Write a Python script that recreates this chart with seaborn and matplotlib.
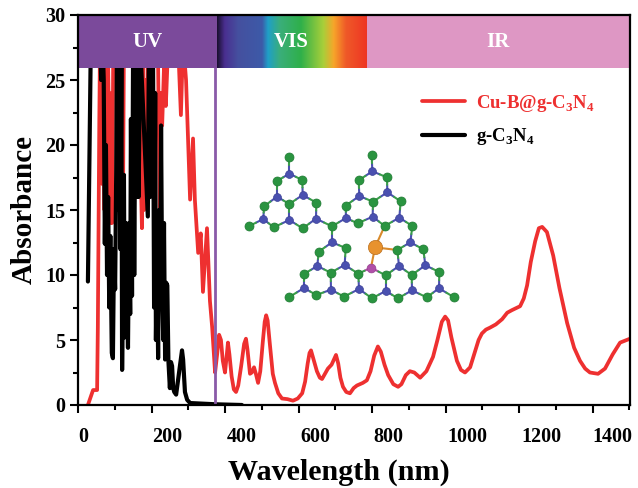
import numpy as np
import pandas as pd

import matplotlib
matplotlib.use('Agg')

import matplotlib.pyplot as plt
import seaborn as sns
from matplotlib.colors import LinearSegmentedColormap
from matplotlib.transforms import ScaledTranslation


# =========================================================
# DATA
# =========================================================

red_nm = [27, 41, 52, 54, 56, 58, 60, 64, 66, 69, 72, 75, 78, 81, 84, 88, 91, 93, 96, 120, 122, 125,
          169, 172, 174, 177, 180, 183, 186, 190, 212, 218, 223, 226, 229, 234, 239, 243, 246,
          272, 280, 286, 294, 305, 313, 318, 327, 334, 340, 351, 359, 365,
          373, 379, 384, 389, 394, 400, 404, 408, 412, 418, 424, 430, 436, 444, 452, 457,
          461, 468, 473, 479, 484, 490, 496, 503, 508, 512, 516, 522, 530, 536, 545, 555,
          570, 585, 598, 610, 618, 625, 630, 634, 639, 650, 658, 664, 672, 680, 690, 702,
          708, 714, 721, 730, 740, 750, 759, 775, 786, 796, 806, 816, 824, 834, 844, 858,
          871, 880, 892, 903, 915, 931, 948, 966, 978, 990, 999, 1007, 1016, 1031, 1042,
          1053, 1067, 1080, 1090, 1099, 1110, 1121, 1137, 1154, 1168, 1181, 1203, 1213,
          1222, 1232, 1244, 1254, 1263, 1276, 1293, 1310, 1331, 1350, 1366, 1380, 1393,
          1415, 1434, 1455, 1475, 1502]
red_abs = [0, 1.15, 1.15, 6, 14, 22, 28, 28, 17, 28, 15, 27, 14, 28, 22, 14, 24, 14, 28, 28, 13, 28,
           28, 16, 13.6, 26, 15, 25, 16, 28, 28, 26, 13.6, 24, 21.5, 26, 23, 26, 28,
           28, 22.3, 28, 25, 15.8, 20.5, 15.8, 11.7, 13.2, 8.7, 13.6, 8, 6,
           2.5, 4.0, 5.4, 5.0, 3.4, 2.5, 3.6, 4.8, 3.9, 2.2, 1.2, 1.0, 1.5, 3.0, 4.7, 5.1,
           4.3, 2.4, 2.5, 2.9, 2.4, 1.7, 2.6, 4.9, 6.4, 6.9, 6.5, 4.7, 2.4, 1.7, 0.9, 0.5,
           0.45, 0.33, 0.5, 0.9, 1.8, 3.2, 4.0, 4.2, 3.7, 2.6, 2.1, 2.0, 2.4, 2.8, 3.1, 3.85,
           3.2, 2.1, 1.4, 1.0, 0.9, 1.3, 1.5, 1.7, 1.9, 2.6, 3.8, 4.5, 4.1, 3.1, 2.3, 1.6,
           1.4, 1.6, 2.3, 2.6, 2.5, 2.1, 2.6, 3.7, 5.0, 6.4, 6.8, 6.5, 5.2, 3.4, 2.7,
           2.5, 2.9, 4.1, 5.0, 5.5, 5.8, 5.95, 6.2, 6.6, 7.1, 7.3, 7.6, 8.2,
           9.2, 11, 12.6, 13.6, 13.7, 13.3, 11.5, 9, 6.3, 4.4, 3.4, 2.8, 2.5,
           2.4, 2.8, 3.9, 4.8, 5.1]

black_nm = [27, 35, 60, 63, 67, 70, 73, 76, 79, 82, 85, 88, 92, 95, 98, 101, 104, 106, 109, 112,
            115, 118, 120, 123, 125, 127, 130, 133, 136, 139, 142, 144, 147, 150, 153, 156, 159,
            162, 165, 169, 190, 193, 196, 199, 202, 204, 207, 210, 212, 215, 218, 221, 224, 226,
            229, 232, 234, 237, 240, 243, 246, 250, 253, 256, 259, 262, 267, 275, 283, 286, 291,
            297, 305, 378, 446]
black_abs = [9.5, 28, 28, 25, 28, 25, 12.4, 20, 10, 16, 7.5, 13, 4.0, 3.6, 12, 8.9, 18, 28, 15, 28,
             12, 26, 2.7, 12, 17.7, 5.2, 14, 9, 4.4, 14, 7, 22, 8.4, 28, 10, 24, 16,
             28, 16, 28, 14.5, 28, 16, 28, 18, 28, 7.5, 24, 5, 12, 3.6, 15, 8, 21.5,
             9, 5, 14, 3.5, 9.4, 9.2, 3.4, 1.3, 3.3, 3.0, 1.3, 1.0, 0.8, 2.5, 4.2, 3.5, 1,
             0.4, 0.15, 0.05, 0]

x_ticks = [0, 200, 400, 600, 800, 1000, 1200, 1400]
y_ticks = [0, 5, 10, 15, 20, 25, 30]
x_label_shift = [5, 16, 17, 17, 16, 22, 22, 20]

band_names = ["UV", "VIS", "IR"]
band_edges = [0, 378, 784, 1502]
uv_line_nm = 372

spectrum_stops = [(0.0, "#1a1030"), (0.05, "#4a2f90"), (0.14, "#45509f"), (0.30, "#3d5aa8"),
                  (0.34, "#1f9fc8"), (0.42, "#3aae7a"), (0.56, "#2fb04a"), (0.71, "#a8cf3a"),
                  (0.78, "#f7a52a"), (0.86, "#ef5a28"), (1.0, "#ee3524")]

green_x = [178, 141, 217, 102, 178, 259, 56, 131, 218, 306, 425, 386, 471, 347, 429, 512, 383,
           464, 547, 266, 347, 222, 302, 385, 467, 545, 628, 502, 580, 178, 259, 342, 426, 504,
           590, 671]
green_y = [80, 153, 150, 229, 222, 218, 289, 292, 295, 289, 75, 151, 142, 227, 215, 214, 280,
           288, 288, 365, 354, 432, 428, 431, 436, 435, 426, 360, 358, 501, 495, 500, 505, 505,
           502, 501]
blue_x = [178, 141, 218, 100, 178, 258, 427, 388, 472, 348, 428, 508, 541, 306, 262, 344, 222,
          303, 387, 467, 546, 627, 507, 586]
blue_y = [131, 200, 195, 267, 270, 266, 124, 198, 187, 264, 260, 263, 337, 337, 408, 405, 474,
          479, 477, 483, 481, 475, 408, 406]
boron_x = [423]
boron_y = [413]
copper_x = [435]
copper_y = [352]
copper_bonded_x = [464, 502, 423]
copper_bonded_y = [288, 360, 413]


# =========================================================
# FIGURE SETTINGS
# =========================================================

sns.set_theme(style="ticks")
plt.rcParams['font.family'] = ['Liberation Serif', 'DejaVu Serif']
plt.rcParams['mathtext.fontset'] = 'custom'
plt.rcParams['mathtext.bf'] = 'Liberation Serif:bold'
plt.rcParams['mathtext.rm'] = 'Liberation Serif:bold'
plt.rcParams['text.color'] = 'black'
plt.rcParams['xtick.color'] = 'black'
plt.rcParams['ytick.color'] = 'black'

fig = plt.figure(figsize=(6.38, 4.88), dpi=100)
ax = fig.add_axes([78 / 638, (488 - 405) / 488, (630 - 78) / 638, 390 / 488])


# =========================================================
# SPECTRA
# =========================================================

red_df = pd.DataFrame({"nm": red_nm, "abs": red_abs})
black_df = pd.DataFrame({"nm": black_nm, "abs": black_abs})

sns.lineplot(data=red_df, x="nm", y="abs", sort=False, estimator=None, color="#ee3030",
             linewidth=2.7, label=r"Cu-B@g-C$_{\mathbf{3}}$N$_{\mathbf{4}}$", ax=ax, zorder=2)
sns.lineplot(data=black_df, x="nm", y="abs", sort=False, estimator=None, color="black",
             linewidth=3, label=r"g-C$_{\mathbf{3}}$N$_{\mathbf{4}}$", ax=ax, zorder=2.1)

ax.vlines(uv_line_nm, 0, 26, color="#8a5aa8", linewidth=2, zorder=3)


# =========================================================
# UV / VIS / IR BANDS
# =========================================================

ax.axvspan(band_edges[0], band_edges[1], ymin=25.9 / 30, ymax=1, color="#7b4a9b", lw=0, zorder=4)
ax.axvspan(band_edges[2], band_edges[3], ymin=25.9 / 30, ymax=1, color="#de97c4", lw=0, zorder=4)

spectrum = LinearSegmentedColormap.from_list("spectrum", spectrum_stops)
ax.imshow(np.linspace(0, 1, 256).reshape(1, -1), cmap=spectrum, aspect="auto",
          extent=[band_edges[1], band_edges[2], 25.9, 30], zorder=4)

for i, name in enumerate(band_names):
    ax.text((band_edges[i] + band_edges[i + 1]) / 2, 27.9, name, color="white", fontsize=15,
            fontweight="bold", ha="center", va="center", zorder=5)


# =========================================================
# AXES
# =========================================================

ax.set_xlim(0, 1502)
ax.set_ylim(0, 30)

ax.set_xticks(x_ticks)
ax.set_xticks([t + 100 for t in x_ticks], minor=True)
ax.set_yticks(y_ticks)
ax.set_yticks([t + 2.5 for t in y_ticks[:-1]], minor=True)

ax.tick_params(axis="x", which="major", length=6, width=1.5, pad=10, labelsize=14.5)
ax.tick_params(axis="y", which="major", length=6, width=1.5, pad=3, labelsize=14.5)
ax.tick_params(which="minor", length=3.5, width=1.5)

for lab in ax.get_xticklabels() + ax.get_yticklabels():
    lab.set_fontweight("bold")

for lab, dx in zip(ax.get_xticklabels(), x_label_shift):
    lab.set_transform(lab.get_transform() + ScaledTranslation(dx / 100, 0, fig.dpi_scale_trans))

for side in ax.spines.values():
    side.set_linewidth(1.6)
    side.set_color("black")
    side.set_zorder(6)

ax.set_xlabel("")
ax.set_ylabel("")
fig.text(339 / 638, 1 - 472 / 488, "Wavelength (nm)", fontsize=21.7, fontweight="bold",
         ha="center", va="center")
fig.text(24 / 638, 1 - 209 / 488, "Absorbance", fontsize=21, fontweight="bold",
         rotation=90, ha="center", va="center")


# =========================================================
# LEGEND
# =========================================================

leg = ax.legend(frameon=False, loc="upper left", bbox_to_anchor=(0.623, 0.80), handlelength=2.3,
                handletextpad=0.6, labelspacing=0.65, borderpad=0, borderaxespad=0,
                labelcolor="linecolor", prop={"weight": "bold", "size": 13.5})


# =========================================================
# MOLECULE INSET
# =========================================================

mol = fig.add_axes([230 / 638, 1 - 320 / 488, 240 / 638, 190 / 488])
mol.set_xlim(0, 720)
mol.set_ylim(570, 0)
mol.axis("off")
mol.patch.set_alpha(0)

for bx, by, col in zip(blue_x + boron_x, blue_y + boron_y,
                       ["#4a50b0"] * len(blue_x) + ["#b04fa8"]):
    for gx, gy in zip(green_x, green_y):
        if np.hypot(bx - gx, by - gy) < 62:
            mx, my = (bx + gx) / 2, (by + gy) / 2
            mol.plot([bx, mx], [by, my], color=col, lw=1.5, zorder=1)
            mol.plot([mx, gx], [my, gy], color="#3a9e4a", lw=1.5, zorder=1)

for gx, gy in zip(copper_bonded_x, copper_bonded_y):
    mol.plot([copper_x[0], gx], [copper_y[0], gy], color="#d98a2b", lw=1.5, zorder=1)

sns.scatterplot(x=green_x, y=green_y, s=42, color="#2a9440", edgecolor="#1f7a33", linewidth=0.5,
                ax=mol, zorder=2)
sns.scatterplot(x=blue_x, y=blue_y, s=32, color="#4a50b0", edgecolor="#3a3f95", linewidth=0.5,
                ax=mol, zorder=2)
sns.scatterplot(x=boron_x, y=boron_y, s=40, color="#b04fa8", edgecolor="#943f8e", linewidth=0.5,
                ax=mol, zorder=2)
sns.scatterplot(x=copper_x, y=copper_y, s=105, color="#e8922e", edgecolor="#b96f1f", linewidth=0.5,
                ax=mol, zorder=3)


# =========================================================
# SAVE FIGURE
# =========================================================

plt.savefig("out.png", dpi=100)
plt.close()
